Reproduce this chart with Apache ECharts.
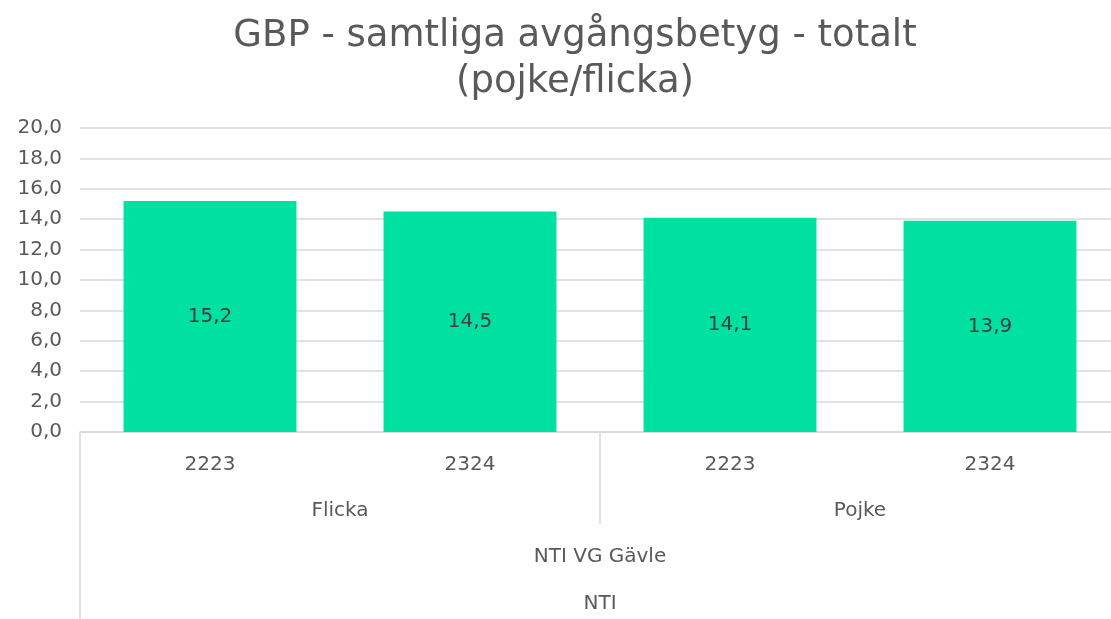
<!DOCTYPE html>
<html>
<head>
<meta charset="utf-8">
<script src="https://cdn.jsdelivr.net/npm/echarts@6/dist/echarts.min.js"></script>
<style>
  html, body { margin: 0; padding: 0; background: #fff; }
  #main { width: 1111px; height: 619px; }
</style>
</head>
<body>
<div id="main"></div>
<script>
// data
var years = ['2223', '2324', '2223', '2324'];
var genders = ['Flicka', 'Pojke'];
var schools = ['NTI VG Gävle'];
var orgs = ['NTI'];
var values = [15.2, 14.5, 14.1, 13.9];
var yTicks = { min: 0, max: 20, interval: 2 };

var chart = echarts.init(document.getElementById('main'));
var font = 'DejaVu Sans';
var gray = '#595959';
var lineColor = '#d9d9d9';

function comma(v) { return v.toFixed(1).replace('.', ','); }

// one extra axis per group level under the years
function levelAxis(data, margin, tickLen) {
    return {
        type: 'category',
        position: 'bottom',
        data: data,
        axisLine: { show: false },
        axisTick: { show: true, length: tickLen, lineStyle: { color: lineColor, width: 1.5 } },
        axisLabel: { margin: margin, color: gray, fontSize: 20, fontFamily: font },
        splitLine: { show: false }
    };
}

var option = {
    backgroundColor: '#fff',
    title: {
        text: 'GBP - samtliga avgångsbetyg - totalt\n(pojke/flicka)',
        left: 570,
        textAlign: 'center',
        top: 8,
        textStyle: { fontFamily: font, fontSize: 37, fontWeight: 'normal', color: gray, lineHeight: 46 }
    },
    grid: { left: 80, top: 128, width: 1040, height: 304, outerBoundsMode: 'none', containLabel: false },
    xAxis: [
        {
            type: 'category',
            data: years,
            axisLine: { lineStyle: { color: lineColor, width: 1.5 } },
            axisTick: { show: false },
            axisLabel: { margin: 23, color: gray, fontSize: 20, fontFamily: font }
        },
        levelAxis(genders, 69, 92),
        levelAxis(schools, 115, 0),
        levelAxis(orgs, 162, 187)
    ],
    yAxis: {
        type: 'value',
        min: yTicks.min,
        max: yTicks.max,
        interval: yTicks.interval,
        axisLine: { show: false },
        axisTick: { show: false },
        splitLine: { lineStyle: { color: lineColor, width: 1.5 } },
        axisLabel: { margin: 18, color: gray, fontSize: 20, fontFamily: font, formatter: comma }
    },
    series: [{
        type: 'bar',
        data: values,
        barWidth: '66.5%',
        itemStyle: { color: '#00E0A0' },
        label: {
            show: true,
            position: 'inside',
            color: '#404040',
            fontSize: 20,
            fontFamily: font,
            formatter: function (p) { return comma(p.value); }
        }
    }]
};

chart.setOption(option);
</script>
</body>
</html>
